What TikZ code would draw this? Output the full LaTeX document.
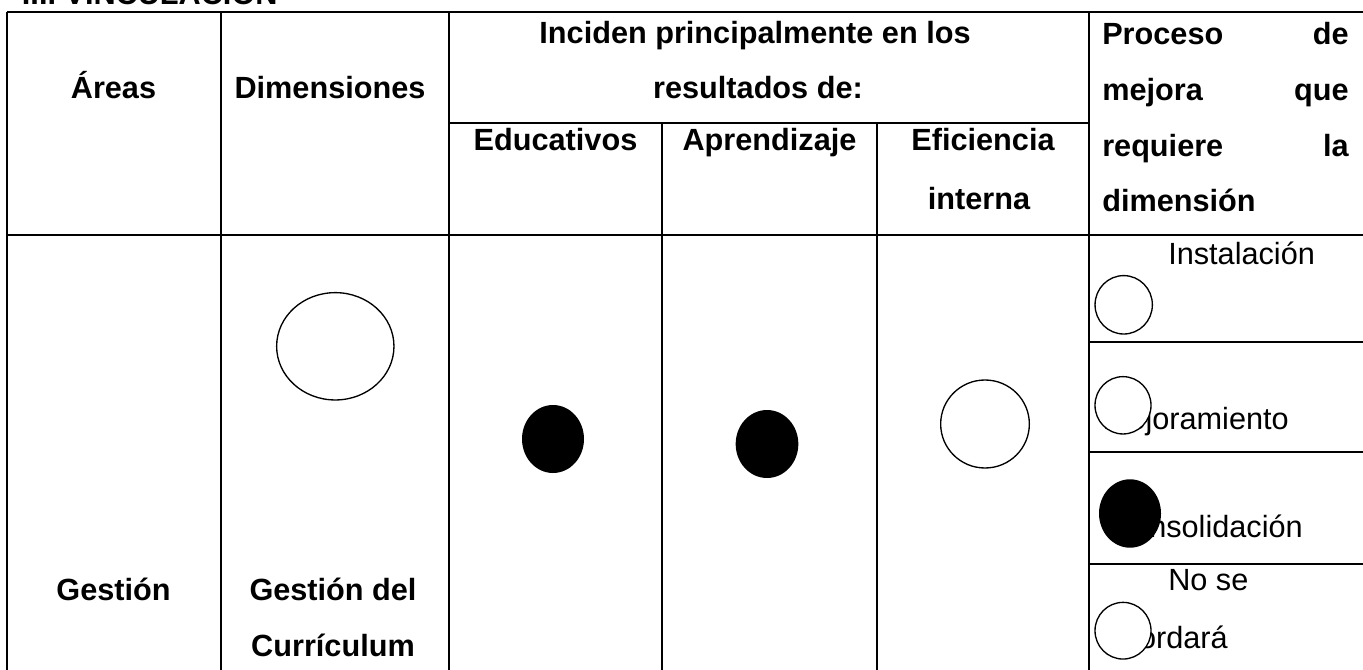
\documentclass[tikz,border=0pt]{standalone}
\usepackage{fontspec}
\setmainfont{Liberation Sans}
\usetikzlibrary{shapes.geometric}
\tikzset{
  grid/.style={line width=1.5pt},
  txt/.style={inner sep=0pt,anchor=base,font=\fontsize{23pt}{28pt}\selectfont},
  btxt/.style={txt,font=\fontsize{23pt}{28pt}\selectfont\bfseries},
  hollow/.style={ellipse,draw,line width=1pt,fill=white,inner sep=0pt},
  solid/.style={ellipse,fill=black,inner sep=0pt},
}
\begin{document}
\begin{tikzpicture}[x=0.75pt,y=-0.75pt]
\useasboundingbox (0,0) rectangle (1363,670);
\clip (0,0) rectangle (1363,670);
\fill[white] (0,0) rectangle (1363,670);
% title (cut off at top, as in the reference)
\node[btxt,anchor=base west] (title) at (21.7,4.7) {III. VINCULACIÓN};
% grid
\draw[grid] (7,12) -- (1380,12);
\draw[grid] (449,122.7) -- (1089,122.7);
\draw[grid] (7,235) -- (1380,235);
\draw[grid] (1089,341.7) -- (1380,341.7);
\draw[grid] (1089,451.7) -- (1380,451.7);
\draw[grid] (1089,564) -- (1380,564);
\draw[grid] (7,12) -- (7,690);
\draw[grid] (221,12) -- (221,690);
\draw[grid] (449,12) -- (449,690);
\draw[grid] (662,122.7) -- (662,690);
\draw[grid] (877,122.7) -- (877,690);
\draw[grid] (1089,12) -- (1089,690);
% header texts
\node[btxt] (areas) at (113.5,99) {Áreas};
\node[btxt] (dims) at (330,99) {Dimensiones};
\node[btxt] (inc1) at (755,44) {Inciden principalmente en los};
\node[btxt] (inc2) at (758,99) {resultados de:};
\node[btxt] (edu) at (555.5,151) {Educativos};
\node[btxt] (apr) at (769.5,151) {Aprendizaje};
\node[btxt] (efi1) at (983,151) {Eficiencia};
\node[btxt] (efi2) at (979,210) {interna};
\node[btxt,anchor=base west] (p1l) at (1102,45) {Proceso};
\node[btxt,anchor=base east] (p1r) at (1349,45) {de};
\node[btxt,anchor=base west] (p2l) at (1102,101) {mejora};
\node[btxt,anchor=base east] (p2r) at (1349,101) {que};
\node[btxt,anchor=base west] (p3l) at (1102,157) {requiere};
\node[btxt,anchor=base east] (p3r) at (1349,157) {la};
\node[btxt,anchor=base west] (p4l) at (1102,212) {dimensión};
% body texts
\node[btxt] (gest) at (113.5,600) {Gestión};
\node[btxt] (gc1) at (333,600) {Gestión del};
\node[btxt] (gc2) at (333,656) {Currículum};
\node[txt,anchor=base west] (inst) at (1168,265) {Instalación};
\node[txt,anchor=base east] (mej) at (1289,429) {Mejoramiento};
\node[txt,anchor=base east] (cons) at (1303,537) {Consolidación};
\node[txt,anchor=base west] (nose1) at (1168,590) {No se};
\node[txt,anchor=base east] (nose2) at (1228,648) {abordará};
% circles
\node[hollow,minimum width=88pt,minimum height=80.5pt] (cdim) at (335.3,346.3) {};
\node[solid,minimum width=46.5pt,minimum height=51pt] (cedu) at (553,439) {};
\node[solid,minimum width=47pt,minimum height=51pt] (capr) at (767,444) {};
\node[hollow,minimum width=66.5pt,minimum height=66pt] (cefi) at (985,424) {};
\node[hollow,minimum width=43pt,minimum height=43.8pt] (cinst) at (1123.7,304.8) {};
\node[hollow,minimum width=42pt,minimum height=43pt] (cmej) at (1123,405.3) {};
\node[solid,minimum width=46.5pt,minimum height=51.3pt] (ccons) at (1130,513.5) {};
\node[hollow,minimum width=42pt,minimum height=42.5pt] (cnose) at (1123,630.7) {};
\end{tikzpicture}
\end{document}
